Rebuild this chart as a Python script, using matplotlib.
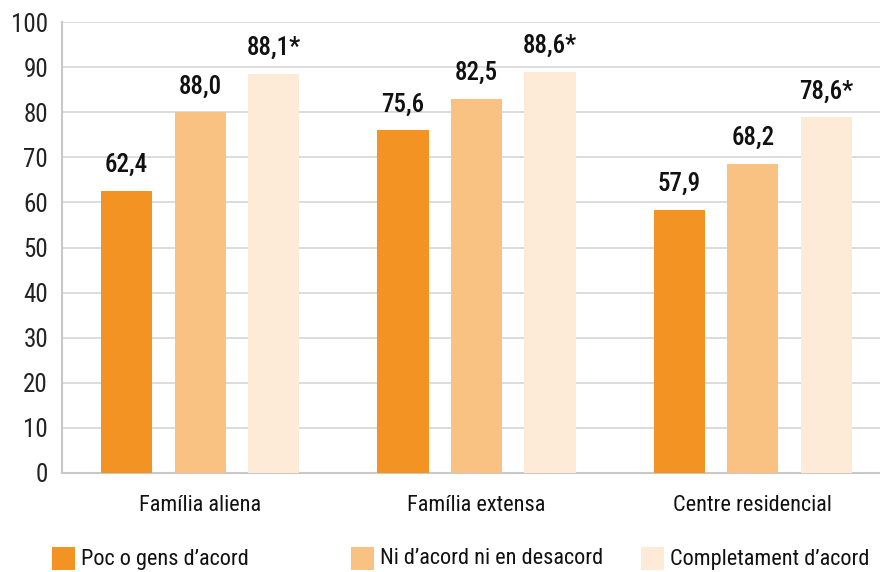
import matplotlib
matplotlib.use("Agg")
import matplotlib.pyplot as plt
from matplotlib.patches import Rectangle
import numpy as np

categories = ["Família aliena", "Família extensa", "Centre residencial"]
series_names = ["Poc o gens d\u2019acord", "Ni d\u2019acord ni en desacord", "Completament d\u2019acord"]
# bar heights as drawn
poc = [62.6, 76.0, 58.3]
ni = [80.0, 82.9, 68.5]
completament = [88.5, 88.9, 78.9]
# printed labels
poc_labels = ["62,4", "75,6", "57,9"]
ni_labels = ["88,0", "82,5", "68,2"]
completament_labels = ["88,1*", "88,6*", "78,6*"]
yticks = [0, 10, 20, 30, 40, 50, 60, 70, 80, 90, 100]
colors = ["#F39323", "#F9C283", "#FDEBD8"]

plt.rcParams['font.family'] = ['Roboto Condensed', 'DejaVu Sans']

fig = plt.figure(figsize=(8.8, 5.72), dpi=100)
ax = fig.add_axes([62/880, 1-473/572, 1-62/880, (473-22)/572])

x = np.arange(len(categories))
offset = 0.266
width = 0.185
series = [poc, ni, completament]
labels = [poc_labels, ni_labels, completament_labels]
for i, (vals, labs) in enumerate(zip(series, labels)):
    bars = ax.bar(x + (i - 1) * offset, vals, width, color=colors[i], zorder=3)
    ax.bar_label(bars, labels=labs, padding=10, fontsize=18, color="#111111",
                 fontweight="medium")

ax.set_ylim(0, 100)
ax.set_xlim(-0.5, 2.46)
ax.set_yticks(yticks)
ax.set_yticklabels([str(t) for t in yticks], fontsize=18, color="#222222")
ax.set_xticks(x)
ax.set_xticklabels(categories, fontsize=16, color="#111111")
ax.tick_params(axis="both", length=0)
ax.tick_params(axis="y", pad=10)
ax.tick_params(axis="x", pad=16)
ax.grid(axis="y", color="#d6d6d6", linewidth=1.2, zorder=0)
for s in ["top", "right"]:
    ax.spines[s].set_visible(False)
for s in ["left", "bottom"]:
    ax.spines[s].set_color("#c8c8c8")
    ax.spines[s].set_linewidth(1.5)

# legend
leg_x = [52, 351, 641]
for xs, c, name in zip(leg_x, colors, series_names):
    fig.add_artist(Rectangle((xs/880, 1-570/572), 23/880, 23/572, transform=fig.transFigure,
                             facecolor=c, edgecolor="none"))
    fig.text((xs+29)/880, 1-559/572, name, fontsize=16, va="center", ha="left", color="#111111")

fig.savefig("out.png", dpi=100)
